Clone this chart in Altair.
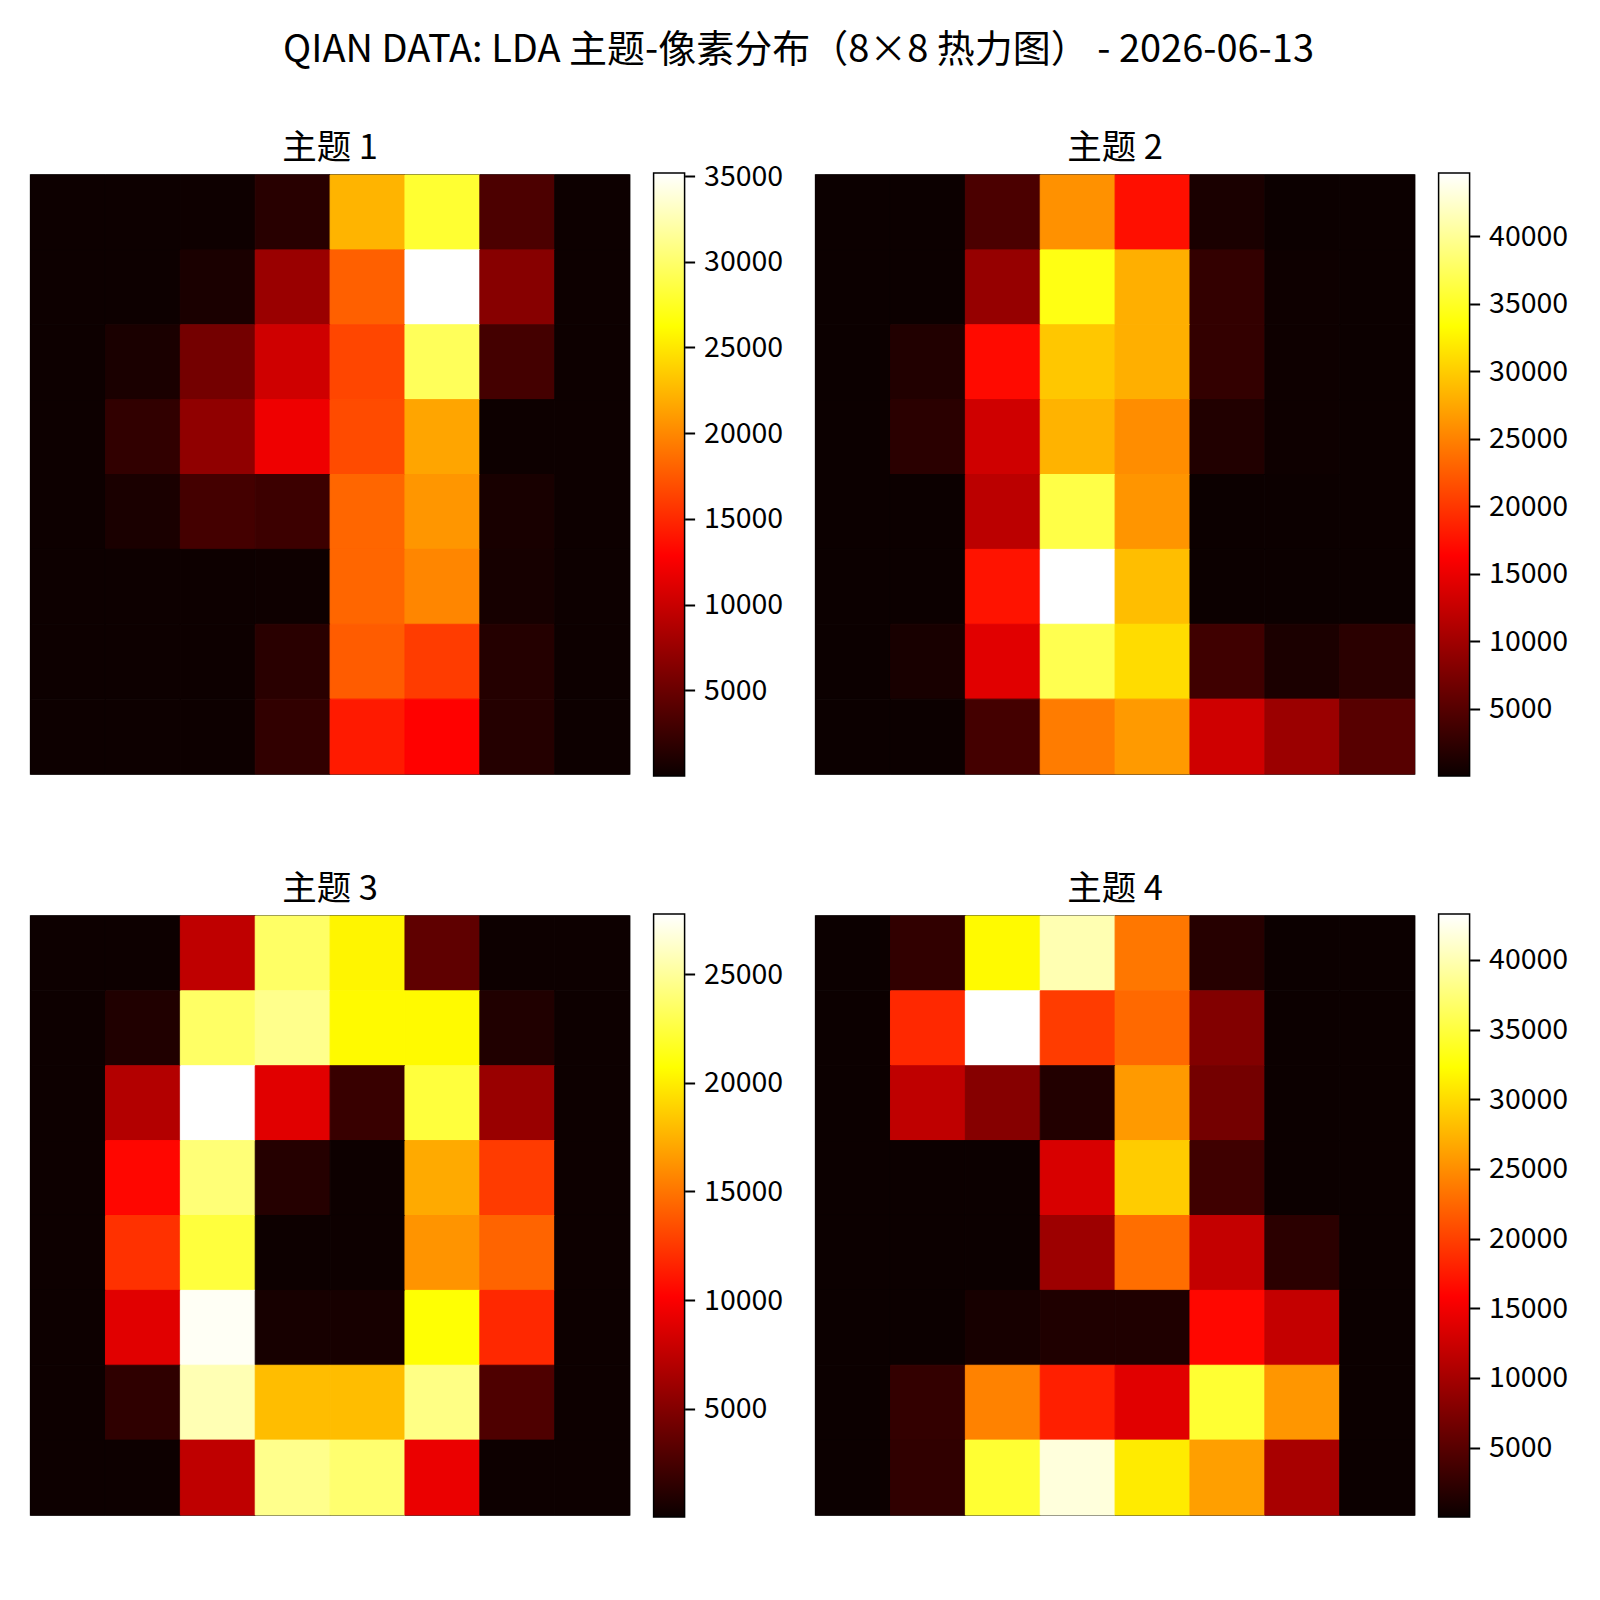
import altair as alt
import pandas as pd

FONT = "Noto Sans CJK SC"

# --- values, row by row from the top ---
topic_1 = [
    [100, 100, 150, 1500, 22300, 28000, 3400, 100],
    [100, 100, 800, 7500, 17900, 35200, 6500, 100],
    [100, 800, 5500, 10300, 16500, 29400, 3000, 100],
    [100, 2000, 7000, 12000, 16800, 21500, 100, 100],
    [100, 800, 3000, 2600, 18200, 20700, 700, 100],
    [100, 100, 100, 150, 18200, 19900, 600, 100],
    [100, 100, 100, 1600, 17700, 16000, 1300, 100],
    [100, 100, 100, 2000, 14200, 12900, 1300, 100],
]
topic_2 = [
    [100, 100, 4300, 26000, 17300, 1000, 100, 100],
    [100, 100, 9300, 34200, 28000, 2700, 200, 100],
    [100, 1500, 17000, 29600, 28000, 2700, 200, 100],
    [100, 2100, 13100, 28300, 25700, 1500, 200, 100],
    [100, 100, 11800, 36500, 26300, 100, 100, 100],
    [100, 100, 17600, 44700, 29000, 100, 100, 100],
    [100, 900, 14300, 36900, 31000, 3500, 1100, 2100],
    [100, 100, 3800, 24600, 26600, 13100, 9600, 5100],
]
topic_3 = [
    [100, 100, 7500, 23500, 20300, 3500, 100, 100],
    [100, 900, 23500, 24600, 20500, 20500, 900, 100],
    [100, 7000, 27770, 8900, 1900, 22400, 5900, 100],
    [100, 10400, 24000, 1100, 100, 17200, 12600, 100],
    [100, 12200, 22400, 100, 100, 16300, 14300, 100],
    [100, 8900, 27500, 500, 500, 20800, 11800, 100],
    [100, 1500, 25700, 18000, 18000, 24400, 2800, 100],
    [100, 100, 7500, 24600, 23800, 9300, 100, 100],
]
topic_4 = [
    [100, 2500, 32000, 40000, 23500, 1800, 100, 100],
    [100, 18400, 43300, 19700, 22600, 7700, 100, 100],
    [100, 11700, 8000, 1500, 25800, 6800, 100, 100],
    [100, 100, 100, 13300, 29000, 3400, 100, 100],
    [100, 100, 100, 9500, 22900, 12000, 2100, 100],
    [100, 100, 800, 1300, 1300, 16300, 12000, 100],
    [100, 2600, 24200, 17800, 13900, 34500, 25500, 100],
    [100, 2400, 34500, 41800, 31000, 26100, 10200, 100],
]

titles = ["主题 1", "主题 2", "主题 3", "主题 4"]
tables = [topic_1, topic_2, topic_3, topic_4]
limits = [(0, 35180), (0, 44700), (20, 27770), (20, 43300)]
ticks = [
    [5000, 10000, 15000, 20000, 25000, 30000, 35000],
    [5000, 10000, 15000, 20000, 25000, 30000, 35000, 40000],
    [5000, 10000, 15000, 20000, 25000],
    [5000, 10000, 15000, 20000, 25000, 30000, 35000, 40000],
]

# --- matplotlib "hot" knots ---
hot_stops = [0, 0.365, 0.746, 1]
hot_colors = ["#0b0000", "#ff0000", "#ffff00", "#ffffff"]


def heat_panel(name, table, vmin, vmax):
    df = pd.DataFrame(
        [
            {"col": c, "row": r, "value": v}
            for r, line in enumerate(table)
            for c, v in enumerate(line)
        ]
    )
    hot = alt.Scale(
        domain=[vmin + s * (vmax - vmin) for s in hot_stops],
        range=hot_colors,
        interpolate="rgb",
    )
    # the thin stroke in the cell's own colour closes the seams between cells
    return alt.Chart(df).mark_rect(strokeWidth=1).encode(
        alt.X("col:O", axis=None, scale=alt.Scale(paddingInner=0, paddingOuter=0)),
        alt.Y("row:O", axis=None, scale=alt.Scale(paddingInner=0, paddingOuter=0)),
        alt.Color("value:Q", legend=None, scale=hot),
        alt.Stroke("value:Q", legend=None, scale=hot),
    ).properties(
        width=599,
        height=599,
        title=alt.TitleParams(name, font=FONT, fontSize=34.5, fontWeight="normal", offset=8),
    )


def colorbar(vmin, vmax, tick_values):
    # one rect with the same colours as a gradient
    gradient = alt.Gradient(
        gradient="linear",
        x1=0, x2=0, y1=1, y2=0,
        stops=[alt.GradientStop(offset=s, color=c) for s, c in zip(hot_stops, hot_colors)],
    )
    return alt.Chart(pd.DataFrame({"lo": [vmin], "hi": [vmax]})).mark_rect(
        color=gradient, stroke="black", strokeWidth=1.5
    ).encode(
        alt.Y(
            "lo:Q",
            title=None,
            scale=alt.Scale(domain=[vmin, vmax], range=[601, -2], nice=False, zero=False),
            axis=alt.Axis(
                orient="right", values=tick_values, grid=False, domain=False,
                labelFont=FONT, labelFontSize=28.5, labelColor="black",
                tickColor="black", tickSize=10, tickWidth=2, labelPadding=9,
                format="d",
            ),
        ),
        alt.Y2("hi:Q"),
    ).properties(width=31, height=599, view=alt.ViewConfig(stroke=None))


def spacer():
    return alt.Chart(pd.DataFrame({"a": [0]})).mark_point(opacity=0).encode(
        x=alt.value(0)
    ).properties(width=83, height=599, view=alt.ViewConfig(stroke=None))


cells = []
for i in range(4):
    lim = limits[i]
    cells.append(heat_panel(titles[i], tables[i], lim[0], lim[1]))
    cells.append(colorbar(lim[0], lim[1], ticks[i]))
    if i % 2 == 0:
        cells.append(spacer())

chart = alt.concat(*cells, columns=5).resolve_scale(
    color="independent", stroke="independent"
).properties(
    spacing={"column": 24, "row": 142},
    bounds="flush",
    title=alt.TitleParams(
        "QIAN DATA: LDA 主题-像素分布（8×8 热力图） - 2026-06-13",
        font=FONT, fontSize=38, fontWeight="normal", anchor="middle", offset=60,
    ),
    padding={"left": 20.6, "top": 24, "right": 5, "bottom": 5},
).configure_view(stroke="black", strokeWidth=1.5)

chart.save("out.html", embed_options={"renderer": "svg", "actions": False})
